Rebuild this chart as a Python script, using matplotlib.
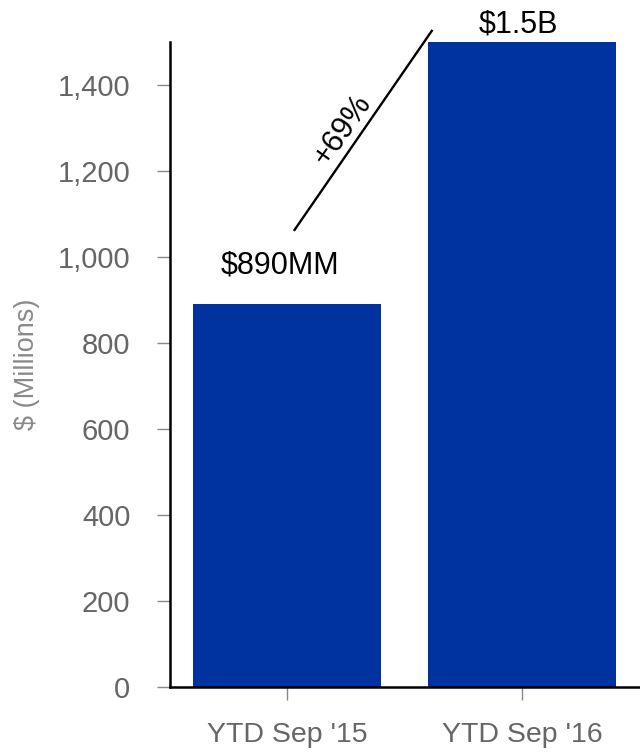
import matplotlib.pyplot as plt

plt.rcParams['font.family'] = ['Liberation Sans', 'DejaVu Sans']

categories = ["YTD Sep '15", "YTD Sep '16"]
values = [890, 1500]
value_labels = ['$890MM', '$1.5B']
growth_label = '+69%'


def plot_ytd_bars(categories, values):
    """Bar chart of YTD totals with growth annotation"""
    fig = plt.figure(figsize=(6.4, 7.52), dpi=100)
    ax = fig.add_axes([0.2656, 0.0864, 0.7344, 0.8577])

    positions = list(range(len(categories)))
    ax.bar(positions, values, width=0.8, color='#0033a0')

    ax.set_xlim(-0.5, 1.5)
    ax.set_ylim(0, 1500)
    ax.set_xticks(positions)
    ax.set_xticklabels(categories)
    ax.set_yticks(range(0, 1401, 200))
    ax.set_yticklabels(['{:,}'.format(v) for v in range(0, 1401, 200)])

    ax.tick_params(axis='y', colors='#888888', labelcolor='#666666',
                   labelsize=21, length=9.5, width=1, pad=19)
    ax.tick_params(axis='x', colors='#888888', labelcolor='#666666',
                   labelsize=20.5, length=9, width=1, pad=16)

    for side in ['top', 'right']:
        ax.spines[side].set_visible(False)
    for side in ['left', 'bottom']:
        ax.spines[side].set_linewidth(1.8)
        ax.spines[side].set_color('black')

    ax.set_ylabel('$ (Millions)', fontsize=19.5, color='#8a8a8a')
    ax.yaxis.set_label_coords(-0.276, 0.5)

    # value labels above the bars
    ax.text(-0.03, 981, value_labels[0], fontsize=22, ha='center', va='center')
    ax.text(0.983, 1540, value_labels[1], fontsize=22, ha='center', va='center',
            clip_on=False)

    # growth line and label
    ax.plot([0.03, 0.614], [1063, 1526], color='black', linewidth=1.7,
            clip_on=False)
    ax.text(0.233, 1295, growth_label, fontsize=22, ha='center', va='center',
            rotation=55)

    fig.savefig('out.png', dpi=100)


plot_ytd_bars(categories, values)
